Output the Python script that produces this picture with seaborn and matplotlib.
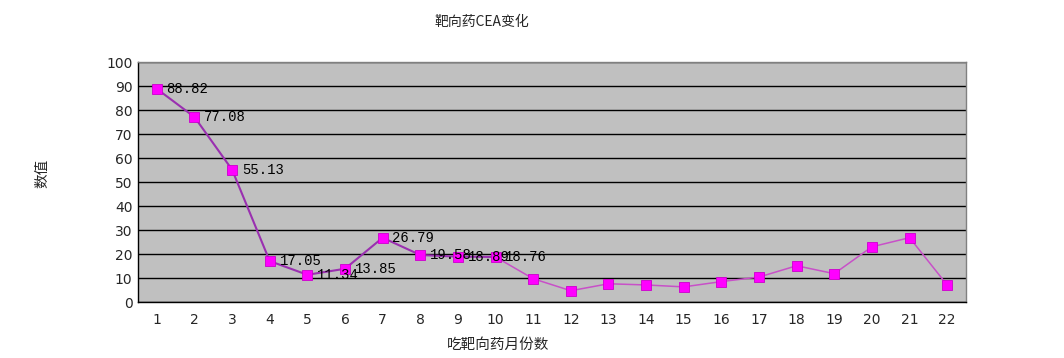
import pandas as pd
import seaborn as sns
import matplotlib.pyplot as plt

# CEA values, month 1..22
months = list(range(1, 23))
cea = [88.82, 77.08, 55.13, 17.05, 11.34, 13.85, 26.79, 19.58, 18.89, 18.76,
       9.7, 4.7, 7.6, 7.1, 6.3, 8.5, 10.4, 15.1, 11.8, 23.0, 26.8, 7.1]
n_labelled = 10  # only the first 10 points carry data labels
y_ticks = list(range(0, 101, 10))

title = '靶向药CEA变化'
x_label = '吃靶向药月份数'
y_label = '数值'


def get_data():
    df = pd.DataFrame({'month': months, 'cea': cea})
    return df


def graph(df):
    sns.set_style('white')
    plt.rcParams['font.family'] = ['Noto Sans CJK SC', 'DejaVu Sans']

    fig = plt.figure(figsize=(10.64, 3.58), dpi=100)
    ax = fig.add_axes([138 / 1064, 1 - 302 / 358, 828 / 1064, 240 / 358])
    ax.set_facecolor('#c0c0c0')

    # line: first stretch drawn darker purple, later a lighter magenta (as in the picture)
    head = df.iloc[:n_labelled]
    tail = df.iloc[n_labelled - 1:]
    sns.lineplot(ax=ax, x='month', y='cea', data=head, color='#9a30b0', linewidth=1.5, zorder=3)
    sns.lineplot(ax=ax, x='month', y='cea', data=tail, color='#c850c8', linewidth=1.1, zorder=3)
    sns.scatterplot(ax=ax, x='month', y='cea', data=df, marker='s', s=45,
                    color='#ff00ff', edgecolor='#cc00cc', linewidth=0.6, zorder=4)

    for i in range(n_labelled):
        ax.annotate('{:.2f}'.format(cea[i]), (months[i], cea[i]), xytext=(7, 0),
                    textcoords='offset points', va='center', ha='left',
                    fontsize=10, family=['Liberation Mono'], color='black', zorder=5)

    ax.set_xlim(0.5, 22.5)
    ax.set_ylim(0, 100)
    ax.set_yticks(y_ticks)
    ax.set_yticklabels([str(v) for v in y_ticks], fontsize=10, family=['DejaVu Sans'])
    ax.set_xticks(months)
    ax.set_xticklabels([str(m) for m in months], fontsize=10, family=['DejaVu Sans'])
    ax.set_xticks([m + 0.5 for m in months[:-1]], minor=True)
    ax.tick_params(axis='x', which='major', length=0, pad=8)
    ax.tick_params(axis='x', which='minor', direction='in', length=5, color='black')
    ax.tick_params(axis='y', which='major', direction='in', length=3, color='black', pad=4)

    ax.yaxis.grid(True, color='black', linewidth=1)
    ax.xaxis.grid(False)
    ax.set_axisbelow(True)

    for side in ['left', 'bottom']:
        ax.spines[side].set_color('black')
        ax.spines[side].set_linewidth(1)
    for side in ['top', 'right']:
        ax.spines[side].set_color('#808080')
        ax.spines[side].set_linewidth(1)

    ax.set_xlabel('')
    ax.set_ylabel('')
    fig.text(482 / 1064, 1 - 22 / 358, title, ha='center', va='center', fontsize=10)
    fig.text(498 / 1064, 1 - 345 / 358, x_label, ha='center', va='center', fontsize=10.5)
    fig.text(42 / 1064, 1 - 173 / 358, y_label, ha='center', va='center', rotation=90, fontsize=10.5)

    fig.savefig('out.png', dpi=100, facecolor='white')


def main():
    df = get_data()
    graph(df)


main()
